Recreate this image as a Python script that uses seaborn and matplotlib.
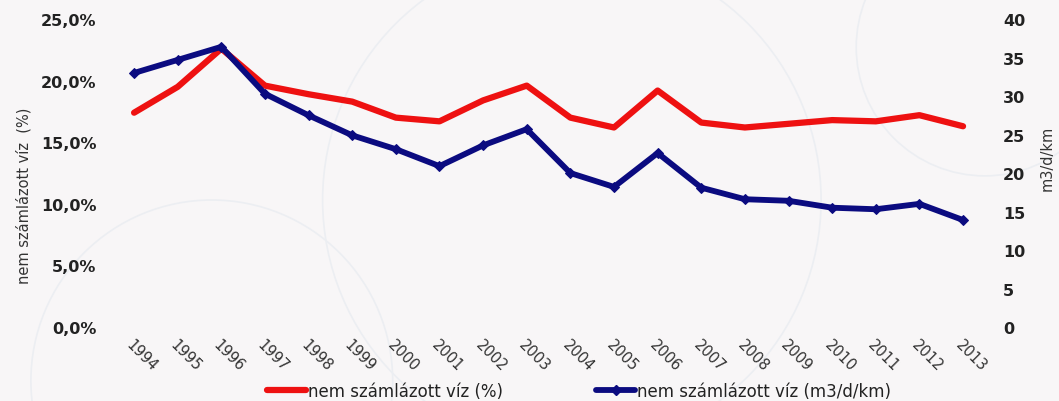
import numpy as np
import pandas as pd
import matplotlib.pyplot as plt
import seaborn as sns
from matplotlib.lines import Line2D
from matplotlib.patches import Circle

years = [str(y) for y in range(1994, 2014)]
pct_values = [17.4, 19.5, 22.6, 19.6, 18.9, 18.3, 17.0, 16.7, 18.4, 19.6,
              17.0, 16.2, 19.2, 16.6, 16.2, 16.5, 16.8, 16.7, 17.2, 16.3]
m3_values = [33.0, 34.7, 36.4, 30.3, 27.5, 24.9, 23.1, 20.9, 23.6, 25.7,
             20.0, 18.2, 22.6, 18.1, 16.6, 16.4, 15.5, 15.3, 16.0, 13.9]
label_pct = "nem számlázott víz (%)"
label_m3 = "nem számlázott víz (m3/d/km)"

red = "#ee1111"
navy = "#0b0b80"
bg = "#f8f6f7"

sns.set_theme(style="white")
plt.rcParams['font.family'] = ['DejaVu Sans']

df = pd.DataFrame({"year": years, "pct": pct_values, "m3": m3_values})

fig = plt.figure(figsize=(10.59, 4.02), dpi=100, facecolor=bg)

# faint decorative circles in the background
for cx, cy, r in [(0.54, 0.50, 0.62), (0.20, 0.05, 0.45), (0.93, 0.88, 0.32)]:
    fig.patches.append(Circle((cx * 1059, cy * 402), r * 402, transform=None,
                              fill=False, edgecolor="#eceef2", linewidth=1.2, zorder=-5))

ax = fig.add_axes([0.106, 0.184, 0.824, 0.766])
ax.set_facecolor("none")
ax2 = ax.twinx()

sns.lineplot(data=df, x="year", y="pct", ax=ax, color=red, linewidth=4.5,
             sort=False, legend=False)
sns.lineplot(data=df, x="year", y="m3", ax=ax2, color=navy, linewidth=4.2,
             marker="D", markersize=5, markeredgecolor=navy, sort=False, legend=False)

ax.set_xlim(-0.5, len(years) - 0.5)
ax.set_ylim(0, 25)
ax2.set_ylim(0, 40)
ax.set_yticks(np.arange(0, 26, 5))
ax.set_yticklabels([f"{v:.1f}%".replace(".", ",") for v in np.arange(0, 26, 5)],
                   fontsize=11.5, fontweight="bold", color="#222222")
ax2.set_yticks(np.arange(0, 41, 5))
ax2.set_yticklabels([str(v) for v in np.arange(0, 41, 5)],
                    fontsize=11.5, fontweight="bold", color="#222222")

ax.set_xticks(range(len(years)))
ax.set_xticklabels(years, rotation=-45, ha="left", va="top",
                   rotation_mode="anchor", fontsize=10.5, color="#333333")
ax.tick_params(axis="x", length=0, pad=7)
ax.tick_params(axis="y", length=0, pad=11.5)
ax2.tick_params(axis="y", length=0, pad=13)

ax.set_xlabel("")
ax.set_ylabel("nem számlázott víz  (%)", fontsize=10.5, color="#333333")
ax.yaxis.set_label_coords(-0.093, 0.43)
ax2.set_ylabel("m3/d/km", fontsize=10.5, color="#333333")
ax2.yaxis.set_label_coords(1.063, 0.55)

for a in (ax, ax2):
    for s in a.spines.values():
        s.set_visible(False)
    a.grid(False)

handles = [Line2D([], [], color=red, linewidth=4.5),
           Line2D([], [], color=navy, linewidth=4.2, marker="D", markersize=5)]
fig.legend(handles, [label_pct, label_m3], loc="center", bbox_to_anchor=(0.547, 0.025),
           ncol=2, frameon=False, fontsize=12, handlelength=2.3, handletextpad=0.15,
           columnspacing=5.6, labelcolor="#222222")

fig.savefig("out.png", dpi=100, facecolor=bg)
